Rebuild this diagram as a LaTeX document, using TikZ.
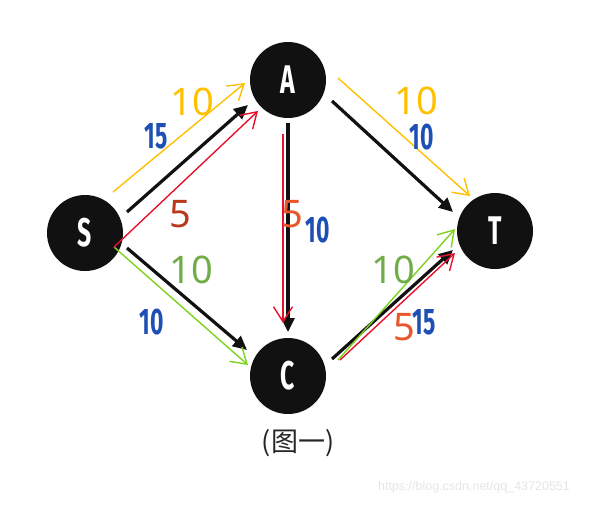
\documentclass[tikz,border=0pt]{standalone}
\usepackage{fontspec}
\setmainfont{Noto Sans}
\newfontfamily\cjkfont{Noto Sans CJK SC}
\newfontfamily\condfont{Fira Sans}
\newfontfamily\urlfont{Liberation Sans}
\usetikzlibrary{arrows.meta,calc}
\definecolor{nodeblack}{RGB}{17,17,17}
\definecolor{flowyellow}{RGB}{255,192,0}
\definecolor{flowred}{RGB}{232,17,45}
\definecolor{flowgreen}{RGB}{126,211,33}
\definecolor{lblgreen}{RGB}{112,173,71}
\definecolor{lblbrown}{RGB}{184,58,27}
\definecolor{lblorange}{RGB}{232,87,42}
\definecolor{capblue}{RGB}{30,79,181}
\newcommand{\narrowtxt}[1]{\scalebox{0.62}[1]{#1}}

\begin{document}
\begin{tikzpicture}[x=1pt, y=-1pt,
  vertex/.style={circle, fill=nodeblack, minimum size=76pt, inner sep=0pt,
                 text=white, font=\condfont\bfseries\fontsize{40}{40}\selectfont},
  flow/.style={line width=3.2pt, color=nodeblack, -{Triangle[length=14pt,width=13pt]}},
  aug/.style={line width=1.4pt, -{Straight Barb[length=15pt,width=19pt]}},
  cnum/.style={inner sep=0pt, text=capblue, font=\condfont\bfseries\fontsize{37}{37}\selectfont},
  fnum/.style={inner sep=0pt, font=\fontsize{38}{38}\selectfont}
]
  \useasboundingbox (0,0) rectangle (595,504);

  % vertices
  \node[vertex] (S) at (85,233)  {\narrowtxt{S}};
  \node[vertex] (A) at (288,80)  {\narrowtxt{A}};
  \node[vertex] (T) at (495,231) {\narrowtxt{T}};
  \node[vertex] (C) at (288,376) {\narrowtxt{C}};

  % capacities
  \draw[flow] ([shift={(42,-21)}]S.center) -- ([shift={(-40,25)}]A.center);
  \draw[flow] ([shift={(44,21)}]A.center)  -- ([shift={(-42,-19)}]T.center);
  \draw[flow] ([shift={(0,43)}]A.center)   -- ([shift={(0,-44)}]C.center);
  \draw[flow] ([shift={(42,15)}]S.center)  -- ([shift={(-41,-26)}]C.center);
  \draw[flow] ([shift={(44,-17)}]C.center) -- ([shift={(-42,19)}]T.center);

  % augmenting paths
  \draw[aug, flowyellow] ([shift={(28,-41)}]S.center) -- ([shift={(-43,3)}]A.center);
  \draw[aug, flowyellow] ([shift={(50,-2)}]A.center)  -- ([shift={(-25,-35)}]T.center);
  \draw[aug, flowgreen]  ([shift={(29,14)}]S.center)  -- ([shift={(-40,-11)}]C.center);
  \draw[aug, flowgreen]  ([shift={(50,-16)}]C.center) -- ([shift={(-40,-2)}]T.center);
  \draw[aug, flowred]    ([shift={(29,14)}]S.center)  -- ([shift={(-30,31)}]A.center);
  \draw[aug, flowred]    ([shift={(-5,54)}]A.center)  -- ([shift={(-5,-53)}]C.center);
  \draw[aug, flowred]    ([shift={(52,-16)}]C.center) -- ([shift={(-40,22)}]T.center);

  % labels
  \node[cnum] (cSA) at (156,136) {\narrowtxt{15}};
  \node[cnum] (cAT) at (422,137) {\narrowtxt{10}};
  \node[cnum] (cAC) at (318,230) {\narrowtxt{10}};
  \node[cnum] (cSC) at (152,322) {\narrowtxt{10}};
  \node[cnum] (cCT) at (424,322) {\narrowtxt{15}};

  \node[fnum, text=flowyellow] (ySA) at (192,102) {10};
  \node[fnum, text=flowyellow] (yAT) at (416,101) {10};
  \node[fnum, text=lblgreen]   (gSC) at (191,270) {10};
  \node[fnum, text=lblgreen]   (gCT) at (393,270) {10};
  \node[fnum, text=lblbrown]   (rSA) at (180,214) {5};
  \node[fnum, text=lblorange]  (rAC) at (292,214) {5};
  \node[fnum, text=lblorange]  (rCT) at (404,327) {5};

  % caption
  \node[font=\cjkfont\fontsize{27}{27}\selectfont, text=black!85] (cap) at (298,443) {(图一)};
  \node[font=\urlfont\fontsize{12.5}{12.5}\selectfont, text=black!10] (url) at (474,487)
        {https://blog.csdn.net/qq\_43720551};
\end{tikzpicture}
\end{document}
